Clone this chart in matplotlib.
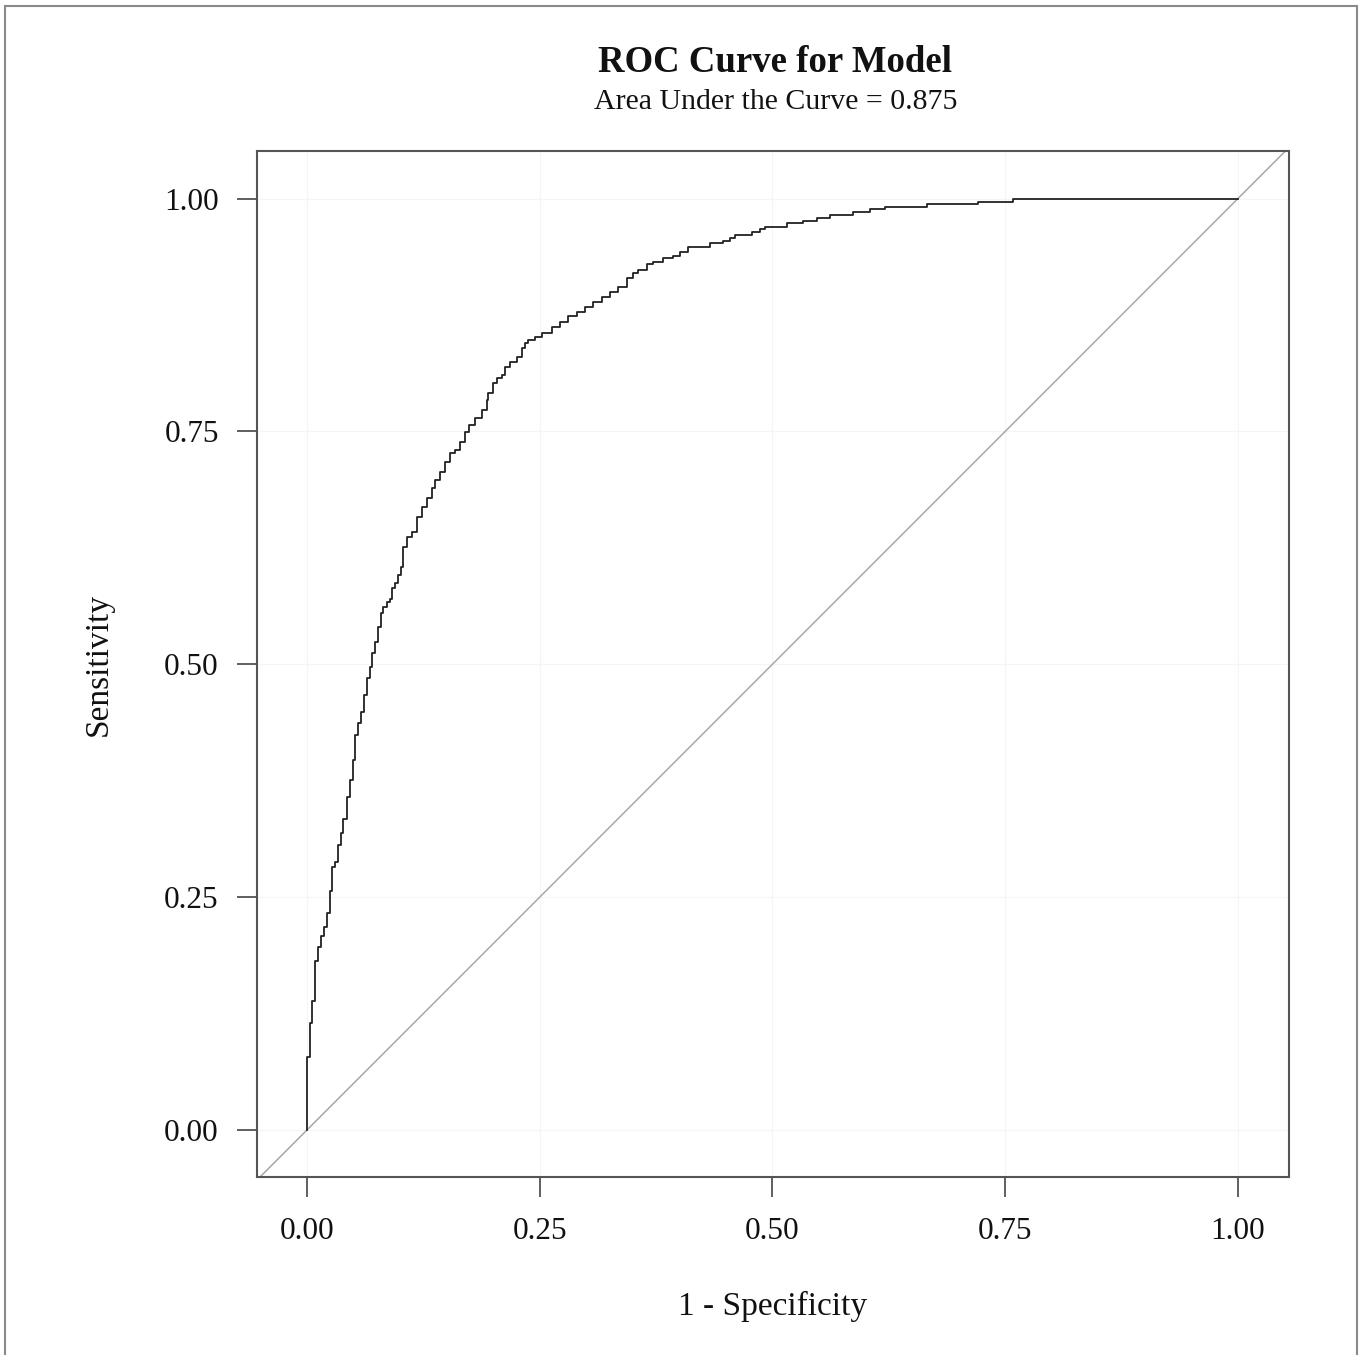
import matplotlib
matplotlib.use("Agg")
import matplotlib.pyplot as plt
from matplotlib.patches import Rectangle

plt.rcParams['font.family'] = ['Liberation Serif', 'DejaVu Serif']

# ROC curve vertices (1 - specificity, sensitivity), drawn as a staircase
fpr = [0.0, 0.0032, 0.0057, 0.0086, 0.0121, 0.0150, 0.0186, 0.0215, 0.0244, 0.0272,
       0.0301, 0.0330, 0.0362, 0.0383, 0.0426, 0.0462, 0.0491, 0.0519, 0.0551, 0.0583,
       0.0612, 0.0641, 0.0677, 0.0701, 0.0730, 0.0766, 0.0795, 0.0820, 0.0856, 0.0892,
       0.0910, 0.0945, 0.0981, 0.1006, 0.1034, 0.1071, 0.1125, 0.1178, 0.1232, 0.1286,
       0.1339, 0.1375, 0.1429, 0.1482, 0.1536, 0.1590, 0.1643, 0.1697, 0.1743, 0.1804,
       0.1876, 0.1930, 0.1947, 0.2001, 0.2038, 0.2091, 0.2127, 0.2180, 0.2252, 0.2306,
       0.2342, 0.2377, 0.2449, 0.2521, 0.2628, 0.2718, 0.2807, 0.2897, 0.2986, 0.3075,
       0.3165, 0.3255, 0.3344, 0.3434, 0.3505, 0.3559, 0.3649, 0.3720, 0.3827, 0.3935,
       0.4006, 0.4096, 0.4203, 0.4329, 0.4472, 0.4544, 0.4597, 0.4777, 0.4866, 0.4919,
       0.5153, 0.5331, 0.5475, 0.5618, 0.5868, 0.6047, 0.6208, 0.6656, 0.7211, 0.7586,
       1.0]
tpr = [0.0, 0.0784, 0.1149, 0.1388, 0.1817, 0.1968, 0.2083, 0.2183, 0.2333, 0.2569,
       0.2823, 0.2880, 0.3060, 0.3188, 0.3339, 0.3575, 0.3757, 0.3972, 0.4240, 0.4369,
       0.4491, 0.4670, 0.4852, 0.4974, 0.5118, 0.5242, 0.5403, 0.5547, 0.5618, 0.5672,
       0.5700, 0.5819, 0.5876, 0.5958, 0.6047, 0.6262, 0.6369, 0.6423, 0.6584, 0.6691,
       0.6781, 0.6889, 0.6978, 0.7067, 0.7175, 0.7265, 0.7300, 0.7389, 0.7497, 0.7568,
       0.7640, 0.7730, 0.7837, 0.7909, 0.8016, 0.8070, 0.8105, 0.8194, 0.8248, 0.8302,
       0.8392, 0.8446, 0.8481, 0.8517, 0.8553, 0.8617, 0.8677, 0.8739, 0.8785, 0.8839,
       0.8892, 0.8946, 0.9000, 0.9053, 0.9143, 0.9197, 0.9232, 0.9297, 0.9322, 0.9358,
       0.9383, 0.9429, 0.9483, 0.9483, 0.9519, 0.9544, 0.9573, 0.9608, 0.9644, 0.9669,
       0.9697, 0.9734, 0.9762, 0.9787, 0.9823, 0.9852, 0.9884, 0.9912, 0.9941, 0.9966,
       1.0]

ticks = [0.0, 0.25, 0.5, 0.75, 1.0]
tick_labels = ["0.00", "0.25", "0.50", "0.75", "1.00"]
title = "ROC Curve for Model"
subtitle = "Area Under the Curve = 0.875"

fig = plt.figure(figsize=(13.59, 13.55), dpi=100)
ax = fig.add_axes([257/1359, 1 - 1177/1355, (1289-257)/1359, (1177-151)/1355])

ax.set_xlim(-0.0537, 1.0548)
ax.set_ylim(-0.0505, 1.051)

ax.grid(True, color='#f5f5f5', linewidth=0.8, zorder=0)
ax.set_axisbelow(True)

ax.axline((0, 0), slope=1, color='#a8a8a8', linewidth=1.1, zorder=2)
ax.plot(fpr, tpr, drawstyle='steps-pre', color='#222222', linewidth=1.3, zorder=3)

ax.set_xticks(ticks)
ax.set_xticklabels(tick_labels)
ax.set_yticks(ticks)
ax.set_yticklabels(tick_labels)
ax.tick_params(axis='both', length=14.5, width=1.2, color='#444444',
               labelsize=22.5, labelcolor='#111111')
ax.tick_params(axis='x', pad=14.5)
ax.tick_params(axis='y', pad=13)

for s in ax.spines.values():
    s.set_color('#555555')
    s.set_linewidth(1.5)

ax.set_xlabel("1 - Specificity", fontsize=24, labelpad=32, color='#111111')
ax.set_ylabel("Sensitivity", fontsize=24, labelpad=36, color='#111111')

cx = (257 + 1289) / 2 / 1359
fig.text(cx + 2/1359, 1 - 63/1355, title, ha='center', va='center', fontsize=26.5,
         fontweight='bold', color='#111111')
fig.text(cx + 3/1359, 1 - 102/1355, subtitle, ha='center', va='center', fontsize=21.5,
         color='#111111')

fig.patches.append(Rectangle((5/1359, -0.01), (1357-5)/1359, 1.01 - 6/1355,
                             transform=fig.transFigure, fill=False,
                             edgecolor='#8a8a8a', linewidth=1.5, clip_on=False))

fig.savefig("out.png", dpi=100, facecolor='white')
